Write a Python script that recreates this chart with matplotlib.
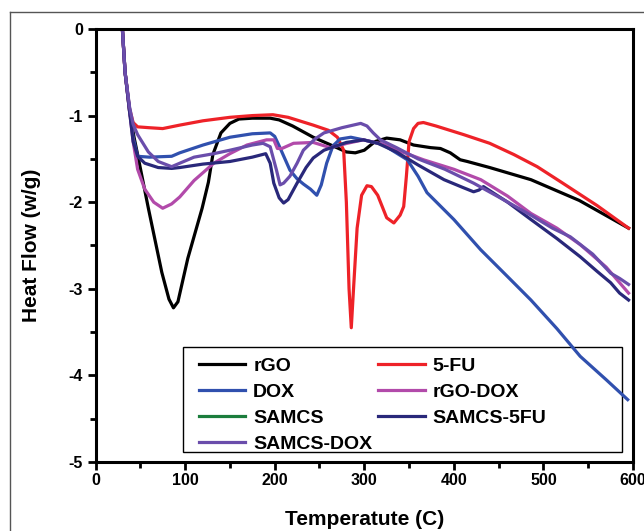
import numpy as np
import matplotlib
matplotlib.use("Agg")
from matplotlib import pyplot as plt
from matplotlib.lines import Line2D
from matplotlib.patches import Rectangle

plt.rcParams['font.family'] = ['Liberation Sans Narrow', 'Liberation Sans', 'DejaVu Sans']
plt.rcParams['font.weight'] = 'bold'

"DATA (read from the picture)"
rgo_x = [30, 33, 38, 43, 47, 59, 74, 82, 87, 92, 103, 119, 126, 131, 140, 150, 160, 175, 195, 205,
         220, 243, 265, 280, 290, 300, 312, 325, 340, 355, 374, 385, 396, 407, 415, 440, 486, 540, 595]
rgo_y = [0, -0.5, -0.95, -1.25, -1.45, -2.07, -2.81, -3.12, -3.22, -3.15, -2.65, -2.07, -1.77, -1.45,
         -1.2, -1.09, -1.04, -1.03, -1.03, -1.05, -1.12, -1.25, -1.35, -1.42, -1.43, -1.4, -1.3, -1.26,
         -1.28, -1.34, -1.37, -1.38, -1.43, -1.51, -1.53, -1.6, -1.74, -1.98, -2.30]

fu_x = [30, 33, 38, 42, 47, 60, 75, 94, 120, 150, 175, 198, 215, 243, 260, 270, 277, 280, 283, 285.5,
        288, 292, 297, 303, 308, 315, 325, 333, 340, 344, 347, 350, 355, 360, 366, 380, 411, 440, 467,
        493, 520, 560, 595]
fu_y = [0, -0.5, -0.92, -1.08, -1.13, -1.14, -1.15, -1.11, -1.06, -1.02, -1.0, -0.99, -1.02, -1.11,
        -1.17, -1.25, -1.40, -2.0, -3.0, -3.45, -3.0, -2.3, -1.92, -1.81, -1.82, -1.92, -2.18, -2.24,
        -2.15, -2.05, -1.7, -1.30, -1.15, -1.09, -1.08, -1.12, -1.22, -1.32, -1.45, -1.59, -1.77,
        -2.04, -2.30]

dox_x = [30, 33, 38, 42, 47, 60, 85, 94, 120, 150, 175, 195, 200, 205, 217, 225, 232, 240, 247, 252,
         258, 265, 273, 285, 299, 320, 348, 360, 370, 400, 430, 460, 486, 515, 541, 570, 594]
dox_y = [0, -0.5, -0.92, -1.25, -1.47, -1.48, -1.47, -1.43, -1.34, -1.25, -1.21, -1.2, -1.24, -1.35,
         -1.63, -1.73, -1.79, -1.85, -1.92, -1.8, -1.55, -1.35, -1.27, -1.25, -1.28, -1.33, -1.51, -1.7,
         -1.89, -2.2, -2.55, -2.86, -3.13, -3.46, -3.78, -4.05, -4.28]

rgodox_x = [30, 33, 38, 42, 47, 55, 65, 75, 85, 94, 110, 132, 150, 169, 191, 199, 203, 208, 221, 243,
            262, 281, 299, 320, 345, 366, 400, 430, 460, 486, 515, 541, 570, 595]
rgodox_y = [0, -0.5, -0.95, -1.3, -1.62, -1.85, -2.0, -2.07, -2.02, -1.94, -1.75, -1.55, -1.44, -1.34,
            -1.28, -1.28, -1.38, -1.38, -1.32, -1.31, -1.37, -1.32, -1.28, -1.33, -1.43, -1.51, -1.62,
            -1.74, -1.93, -2.13, -2.3, -2.49, -2.75, -3.05]

samcs_x = []
samcs_y = []

s5fu_x = [30, 33, 38, 42, 47, 55, 70, 85, 94, 120, 150, 175, 190, 195, 199, 205, 210, 215, 225, 235,
          243, 255, 266, 280, 299, 315, 336, 360, 389, 410, 422, 428, 433, 460, 486, 515, 541, 560, 575,
          585, 595]
s5fu_y = [0, -0.5, -0.95, -1.3, -1.47, -1.55, -1.6, -1.61, -1.6, -1.56, -1.53, -1.48, -1.44, -1.55,
          -1.78, -1.95, -2.01, -1.97, -1.78, -1.6, -1.49, -1.4, -1.36, -1.31, -1.28, -1.32, -1.42,
          -1.57, -1.74, -1.83, -1.88, -1.86, -1.82, -2.0, -2.2, -2.42, -2.63, -2.8, -2.93, -3.05, -3.13]

sdox_x = [30, 33, 38, 42, 47, 53, 59, 70, 85, 94, 110, 132, 150, 175, 187, 195, 202, 206, 210, 217, 225,
          232, 245, 255, 275, 296, 303, 310, 318, 336, 360, 390, 422, 450, 486, 510, 530, 555, 575, 585, 595]
sdox_y = [0, -0.5, -0.9, -1.1, -1.22, -1.32, -1.42, -1.53, -1.59, -1.55, -1.48, -1.44, -1.4, -1.34,
          -1.32, -1.36, -1.63, -1.8, -1.78, -1.7, -1.55, -1.4, -1.27, -1.2, -1.14, -1.09, -1.12, -1.2,
          -1.28, -1.37, -1.5, -1.62, -1.78, -1.94, -2.15, -2.3, -2.4, -2.6, -2.82, -2.88, -2.95]

"MAKE PLOT"
fig = plt.figure(figsize=(6.44, 5.31), dpi=100)
ax = fig.add_axes([0.1483, 0.130, 0.8347, 0.8154])

lw = 2.3
l_rgo, = ax.plot(rgo_x, rgo_y, color='#000000', lw=lw, label='rGO')
l_fu, = ax.plot(fu_x, fu_y, color='#ee2228', lw=lw, label='5-FU')
l_dox, = ax.plot(dox_x, dox_y, color='#3050ae', lw=lw, label='DOX')
l_rgodox, = ax.plot(rgodox_x, rgodox_y, color='#b24aaa', lw=lw, label='rGO-DOX')
l_samcs, = ax.plot(samcs_x, samcs_y, color='#1b7d3c', lw=lw, label='SAMCS')
l_s5fu, = ax.plot(s5fu_x, s5fu_y, color='#29287a', lw=lw, label='SAMCS-5FU')
l_sdox, = ax.plot(sdox_x, sdox_y, color='#6a4dab', lw=lw, label='SAMCS-DOX')

ax.set_xlim(0, 600)
ax.set_ylim(-5, 0)
ax.set_xticks(np.arange(0, 601, 100))
ax.set_yticks(np.arange(-5, 0.1, 1))
ax.set_xticks(np.arange(50, 600, 100), minor=True)
ax.set_yticks(np.arange(-4.5, 0, 1), minor=True)
ax.set_yticklabels(['-5', '-4', '-3', '-2', '-1', '0'])

for s in ax.spines.values():
    s.set_linewidth(2.2)
ax.tick_params(which='major', direction='out', length=6, width=2, labelsize=11.5, pad=3)
ax.tick_params(which='minor', direction='out', length=4, width=2)
ax.tick_params(axis='x', pad=2)

ax.set_xlabel('Temperatute (C)', fontsize=15, fontweight='bold', labelpad=16)
ax.set_ylabel('Heat Flow (w/g)', fontsize=15, fontweight='bold', labelpad=20)

# legend box (no fill, lines show through it)
ax.add_patch(Rectangle((0.1628, 0.0231), 0.8167, 0.2425, transform=ax.transAxes,
                       facecolor='none', edgecolor='black', lw=1.0, zorder=1))
handles = [l_rgo, l_dox, l_samcs, l_sdox, l_fu, l_rgodox, l_s5fu]
leg = ax.legend(handles=handles, ncol=2, loc='upper left',
                bbox_to_anchor=(0.192, 0.241), borderaxespad=0, frameon=False,
                prop={'family': ['Liberation Sans', 'DejaVu Sans'], 'weight': 'bold', 'size': 14},
                handlelength=2.4, handletextpad=0.4, labelspacing=0.42, borderpad=0,
                columnspacing=0.3)

# outer frame of the original figure
fig.add_artist(Line2D([10 / 644, 10 / 644], [0, 1 - 12 / 531], transform=fig.transFigure,
                      color='#555555', lw=1))
fig.add_artist(Line2D([10 / 644, 1], [1 - 12 / 531, 1 - 12 / 531], transform=fig.transFigure,
                      color='#555555', lw=1))

fig.savefig("out.png", dpi=100)
